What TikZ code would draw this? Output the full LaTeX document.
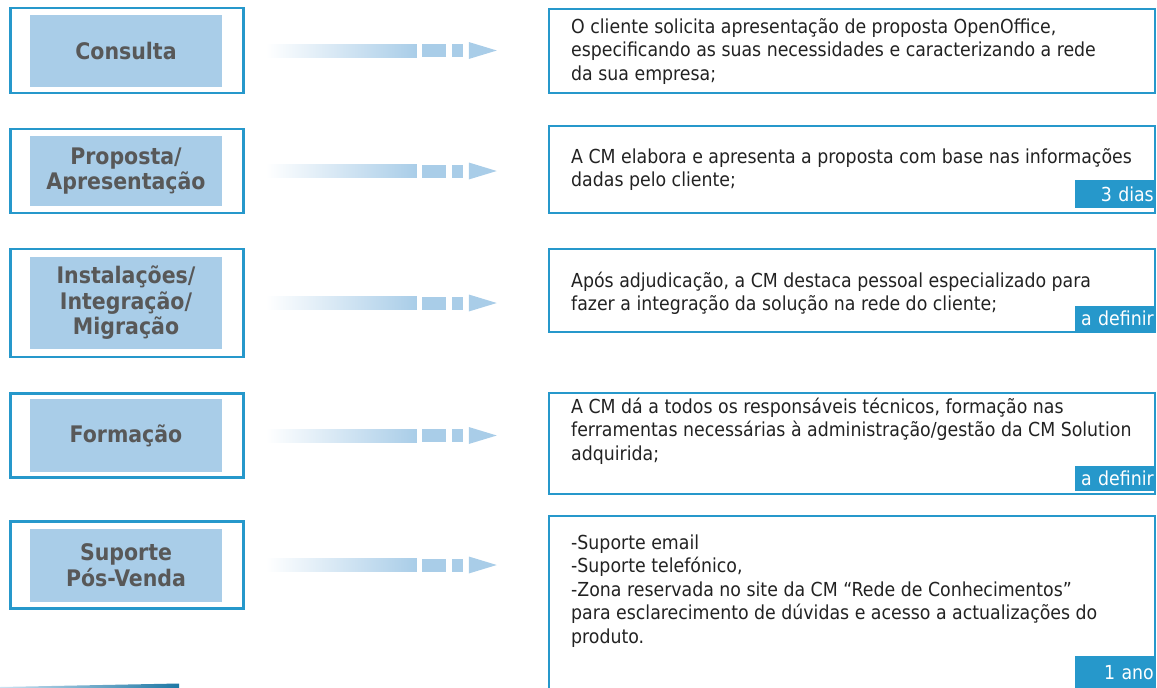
\documentclass[tikz,border=0pt]{standalone}
\usepackage{fontspec}
\setmainfont{DejaVu Sans Condensed}
\usetikzlibrary{calc}
\definecolor{cmblue}{RGB}{38,152,203}
\definecolor{cmlight}{RGB}{169,205,232}
\definecolor{cmdark}{RGB}{30,120,165}
\definecolor{labelgray}{RGB}{88,88,88}
\definecolor{bodytext}{RGB}{34,34,34}
% gradient arrow from a stage frame towards its description
\newcommand{\stagearrow}[1]{
  \shade[left color=white, right color=cmlight]
    ($(#1.east)+(21,-6.5)$) rectangle ($(#1.east)+(172,6.5)$);
  \fill[cmlight] ($(#1.east)+(177,-6.5)$) rectangle ($(#1.east)+(201,6.5)$);
  \fill[cmlight] ($(#1.east)+(207,-6.5)$) rectangle ($(#1.east)+(218,6.5)$);
  \fill[cmlight] ($(#1.east)+(224,-8.5)$) -- ($(#1.east)+(252,0)$)
    -- ($(#1.east)+(224,8.5)$) -- cycle;
}
\tikzset{
  stageframe/.style={
    rectangle,
    draw=cmblue,
    line width=2.5pt,
    minimum width=233pt,
    inner sep=0pt
  },
  stagefill/.style={
    rectangle,
    fill=cmlight,
    minimum width=192pt,
    inner sep=0pt,
    align=center,
    text=labelgray,
    font=\fontsize{22.8}{25.5}\selectfont\bfseries
  },
  descbox/.style={
    rectangle,
    draw=cmblue,
    line width=2pt,
    minimum width=606pt,
    inner sep=0pt
  },
  % anchored at the baseline of the last line
  desctext/.style={
    anchor=base west,
    align=left,
    inner sep=0pt,
    text=bodytext,
    font=\fontsize{19.3}{23.5}\selectfont
  },
  timetag/.style={
    rectangle,
    fill=cmblue,
    anchor=north east,
    inner sep=0pt,
    minimum width=81pt,
    text width=77pt,
    align=right,
    text=white,
    font=\fontsize{19.3}{23.5}\selectfont
  }
}
\begin{document}
\begin{tikzpicture}[x=1pt, y=-1pt]
  \useasboundingbox (0,0) rectangle (1157,688);

  % stages on the left
  \node[stageframe, minimum height=85pt] (consulta) at (127,50.5) {};
  \node[stagefill, minimum height=72pt] (consultalbl) at ([xshift=-1pt]consulta.center) {Consulta};
  \node[stageframe, minimum height=84pt] (proposta) at (127,171) {};
  \node[stagefill, minimum height=70pt] (propostalbl) at ([xshift=-1pt]proposta.center) {Proposta/\\Apresentação};
  \node[stageframe, minimum height=108pt] (instal) at (127,303) {};
  \node[stagefill, minimum height=92pt] (installbl) at ([xshift=-1pt]instal.center) {Instalações/\\Integração/\\Migração};
  \node[stageframe, minimum height=84pt] (formacao) at (127,435.5) {};
  \node[stagefill, minimum height=73pt] (formacaolbl) at ([xshift=-1pt]formacao.center) {Formação};
  \node[stageframe, minimum height=87pt] (suporte) at (127,565) {};
  \node[stagefill, minimum height=73pt] (suportelbl) at ([xshift=-1pt]suporte.center) {Suporte\\Pós-Venda};

  % descriptions on the right
  \node[descbox, minimum height=84pt] (consultabox) at (852,51) {};
  \node[desctext] (consultatxt) at (571,80) {O cliente solicita apresentação de proposta OpenOffice,\\especificando as suas necessidades e caracterizando a rede\\da sua empresa;};
  \node[descbox, minimum height=87pt] (propostabox) at (852,169.5) {};
  \node[desctext] (propostatxt) at (571,186.5) {A CM elabora e apresenta a proposta com base nas informações\\dadas pelo cliente;};
  \node[timetag, minimum height=28pt] (propostatag) at (1156,180) {3 dias};
  \node[descbox, minimum height=83pt] (instalbox) at (852,290.5) {};
  \node[desctext] (instaltxt) at (571,310.5) {Após adjudicação, a CM destaca pessoal especializado para\\fazer a integração da solução na rede do cliente;};
  \node[timetag, minimum height=25pt] (instaltag) at (1156,306) {a~definir};
  \node[descbox, minimum height=101pt] (formacaobox) at (852,443.5) {};
  \node[desctext] (formacaotxt) at (571,460) {A CM dá a todos os responsáveis técnicos, formação nas\\ferramentas necessárias à administração/gestão da CM Solution\\adquirida;};
  \node[timetag, minimum height=25pt] (formacaotag) at (1156,466) {a~definir};
  \node[descbox, minimum height=200pt] (suportebox) at (852,616) {};
  \node[desctext] (suportetxt) at (571,643) {-Suporte email\\-Suporte telefónico,\\-Zona reservada no site da CM “Rede de Conhecimentos”\\para esclarecimento de dúvidas e acesso a actualizações do\\produto.};
  \node[timetag, minimum height=32pt] (suportetag) at (1156,656) {1 ano};

  \stagearrow{consulta}
  \stagearrow{proposta}
  \stagearrow{instal}
  \stagearrow{formacao}
  \stagearrow{suporte}

  % strip in the lower left corner
  \shade[left color=cmlight!60, right color=cmdark] (0,687) -- (179,683.5) -- (179,688) -- (0,688) -- cycle;
\end{tikzpicture}
\end{document}
